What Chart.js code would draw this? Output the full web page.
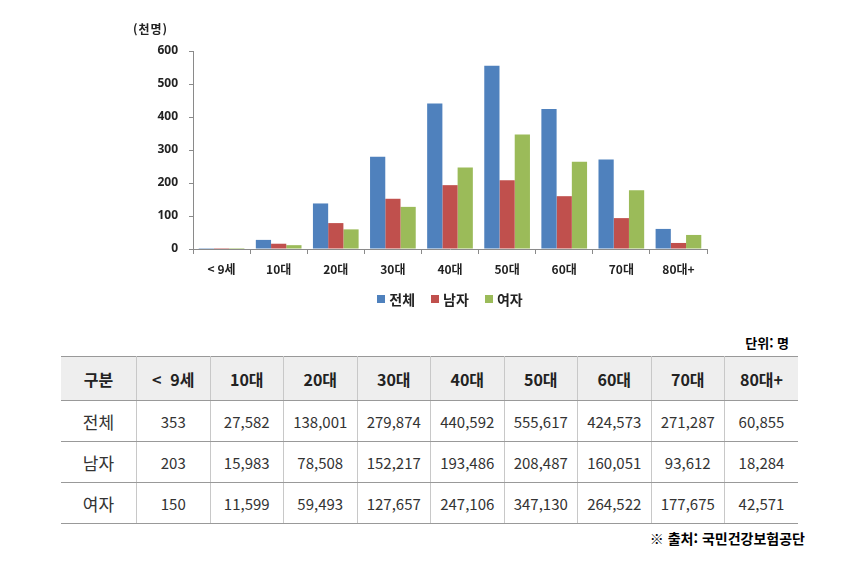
<!DOCTYPE html>
<html lang="ko">
<head>
<meta charset="utf-8">
<script src="https://cdn.jsdelivr.net/npm/chart.js@4/dist/chart.umd.min.js"></script>
<style>
  body { margin:0; width:865px; height:561px; background:#fff; position:relative; font-family:"Noto Sans CJK KR","Noto Sans",sans-serif; overflow:hidden; }
  #wrap { position:absolute; left:0; top:0; width:865px; height:290px; }
  .unit-top { position:absolute; left:133px; top:20px; font-size:12px; font-weight:bold; color:#222; letter-spacing:1px; }
  #legend { position:absolute; top:289px; left:0; width:900px; text-align:center; font-size:14px; font-weight:bold; color:#222; }
  #legend span.item { margin:0 8px; }
  #legend i { display:inline-block; width:8px; height:8px; margin-right:4px; vertical-align:2px; }
  .unit { position:absolute; right:76px; top:333px; font-size:13px; font-weight:bold; }
  table { position:absolute; left:61px; top:356px; width:737px; border-collapse:collapse; table-layout:fixed; font-size:15px; color:#333; }
  th, td { text-align:center; border-left:1px solid #c8c8c8; border-right:1px solid #c8c8c8; border-bottom:1px solid #999; padding:0; }
  th:first-child, td:first-child { border-left:none; }
  th:last-child, td:last-child { border-right:none; }
  thead tr { background:#eeeeee; height:44px; border-top:1px solid #999; }
  th { font-weight:bold; font-size:16px; color:#222; }
  tbody tr { height:41px; }
  td.lbl { font-size:17px; }
  .src { position:absolute; right:60px; top:528px; font-size:14px; font-weight:bold; }
</style>
</head>
<body>
<div id="wrap"><canvas id="c"></canvas></div>
<div class="unit-top">(천명)</div>
<div id="legend"></div>
<div class="unit">단위: 명</div>
<table id="tbl"><thead></thead><tbody></tbody></table>
<div class="src">※ 출처: 국민건강보험공단</div>
<script>
// 연령대별 인원 (명)
const ages = ['< 9세', '10대', '20대', '30대', '40대', '50대', '60대', '70대', '80대+'];
const totalCnt = [353, 27582, 138001, 279874, 440592, 555617, 424573, 271287, 60855];
const maleCnt = [203, 15983, 78508, 152217, 193486, 208487, 160051, 93612, 18284];
const femaleCnt = [150, 11599, 59493, 127657, 247106, 347130, 264522, 177675, 42571];
const yTicks = [0, 100, 200, 300, 400, 500, 600];

const series = [
  { name: '전체', values: totalCnt, color: '#4F81BD' },
  { name: '남자', values: maleCnt, color: '#C0504D' },
  { name: '여자', values: femaleCnt, color: '#9BBB59' },
];

new Chart(document.getElementById('c'), {
  type: 'bar',
  data: {
    labels: ages,
    datasets: series.map(s => ({
      label: s.name,
      data: s.values.map(v => v / 1000),
      backgroundColor: s.color,
      borderWidth: 0,
      categoryPercentage: 0.8,
      barPercentage: 1.0
    }))
  },
  options: {
    responsive: true, maintainAspectRatio: false, animation: false,
    layout: { padding: { left: 0, right: 158, top: 51, bottom: 0 } },
    plugins: { legend: { display: false }, tooltip: { enabled: false } },
    scales: {
      x: {
        grid: { drawOnChartArea: false, tickLength: 5, color: '#8a8a8a', offset: true },
        border: { color: '#8a8a8a' },
        ticks: { color: '#222', padding: 8, font: { size: 12, weight: 'bold', family: '"Noto Sans CJK KR"' } },
        afterFit: s => { s.height = 41; }
      },
      y: {
        min: 0, max: 600,
        afterBuildTicks: s => { s.ticks = yTicks.map(v => ({ value: v })); },
        grid: { drawOnChartArea: false, tickLength: 4, color: '#8a8a8a' },
        border: { color: '#8a8a8a' },
        ticks: { color: '#222', padding: 11, font: { size: 12, weight: 'bold', family: '"Noto Sans"' } },
        afterFit: s => { s.width = 193; }
      }
    }
  }
});

// legend
document.getElementById('legend').innerHTML = series.map(s =>
  `<span class="item"><i style="background:${s.color}"></i>${s.name}</span>`).join('');

// table
const fmt = n => n.toLocaleString('en-US');
const tbl = document.getElementById('tbl');
tbl.querySelector('thead').innerHTML =
  '<tr><th style="width:75px">구분</th>' + ages.map(a => `<th>${a.replace('< ', '&lt;&nbsp;&nbsp;')}</th>`).join('') + '</tr>';
tbl.querySelector('tbody').innerHTML = series.map(s =>
  `<tr><td class="lbl">${s.name}</td>${s.values.map(v => `<td>${fmt(v)}</td>`).join('')}</tr>`).join('');
</script>
</body>
</html>
